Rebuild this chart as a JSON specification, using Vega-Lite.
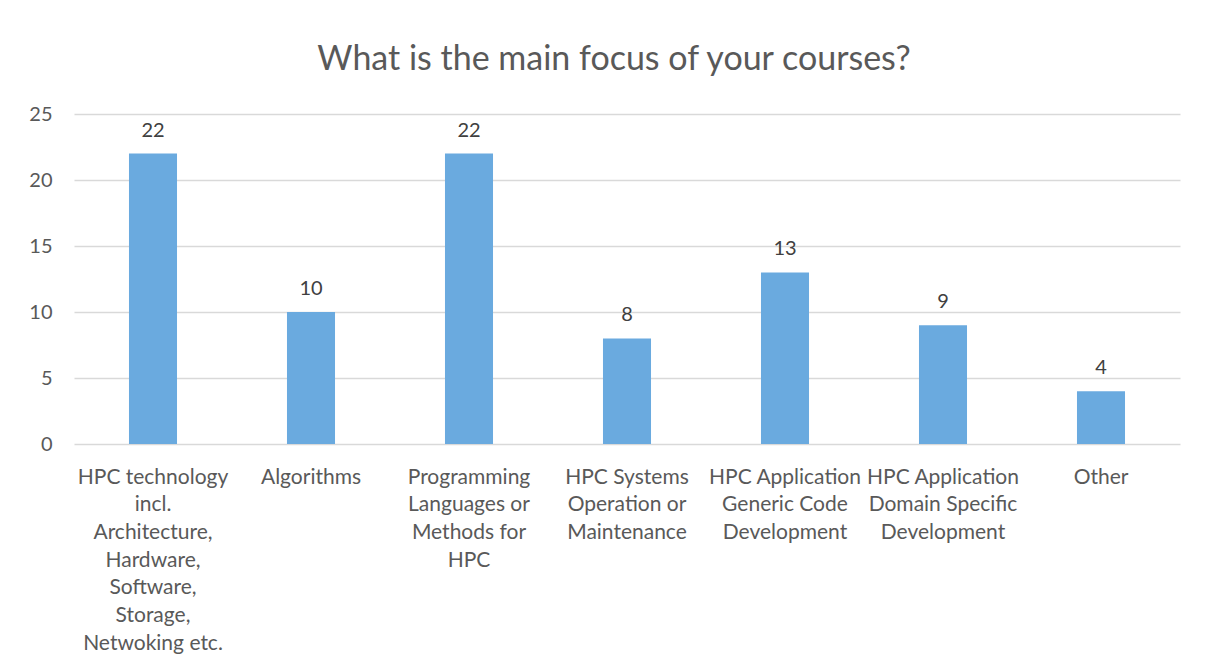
{
  "$schema": "https://vega.github.io/schema/vega-lite/v6.json",
  "width": 1106,
  "height": 330,
  "autosize": {"type": "none"},
  "padding": {"left": 74, "top": 114, "right": 26, "bottom": 228},
  "background": "white",
  "title": {
    "text": "What is the main focus of your courses?",
    "font": "Lato",
    "fontSize": 34,
    "fontWeight": "normal",
    "color": "#595959",
    "anchor": "middle",
    "baseline": "alphabetic",
    "offset": 0,
    "dx": -13
  },
  "data": {
    "values": [
      {"category": "HPC technology|incl.|Architecture,|Hardware,|Software,|Storage,|Netwoking etc.", "count": 22},
      {"category": "Algorithms", "count": 10},
      {"category": "Programming|Languages or|Methods for|HPC", "count": 22},
      {"category": "HPC Systems|Operation or|Maintenance", "count": 8},
      {"category": "HPC Application|Generic Code|Development", "count": 13},
      {"category": "HPC Application|Domain Specific|Development", "count": 9},
      {"category": "Other", "count": 4}
    ]
  },
  "encoding": {
    "x": {
      "field": "category",
      "type": "nominal",
      "sort": null,
      "scale": {"paddingInner": 0.696, "paddingOuter": 0.348},
      "axis": {
        "title": null,
        "labelExpr": "split(datum.value, '|')",
        "labelAngle": 0,
        "labelFont": "Lato",
        "labelFontSize": 21,
        "labelColor": "#595959",
        "labelBaseline": "alphabetic",
        "labelPadding": 39,
        "labelLineHeight": 27.7,
        "labelLimit": 0,
        "labelOverlap": false,
        "ticks": false,
        "tickSize": 0,
        "domain": false,
        "grid": false
      }
    },
    "y": {
      "field": "count",
      "type": "quantitative",
      "scale": {"domain": [0, 25]},
      "axis": {
        "title": null,
        "values": [0, 5, 10, 15, 20, 25],
        "labelFont": "Lato",
        "labelFontSize": 20,
        "labelColor": "#595959",
        "labelPadding": 22,
        "ticks": false,
        "tickSize": 0,
        "domain": false,
        "grid": true,
        "gridColor": "#d9d9d9",
        "gridWidth": 1.5
      }
    }
  },
  "layer": [
    {"mark": {"type": "bar", "color": "#6aaadf"}},
    {
      "mark": {
        "type": "text",
        "font": "Lato",
        "fontSize": 20,
        "color": "#404040",
        "baseline": "alphabetic",
        "dy": -17
      },
      "encoding": {"text": {"field": "count", "type": "quantitative"}}
    }
  ],
  "config": {"view": {"stroke": null}}
}
